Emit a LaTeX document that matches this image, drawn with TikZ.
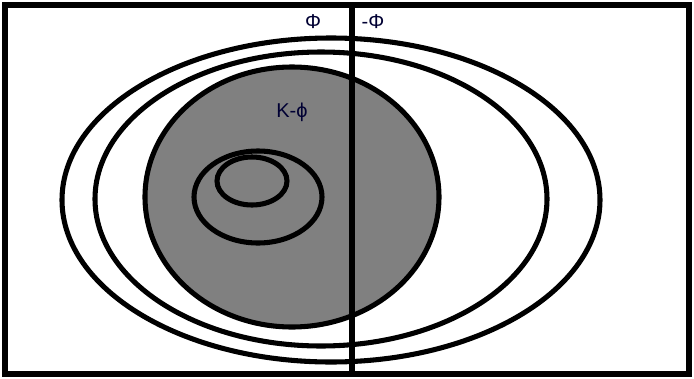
\documentclass[tikz,border=0pt]{standalone}
\usepackage{fontspec}
\setmainfont{Liberation Sans}
\usepackage{tikz}

\begin{document}
\begin{tikzpicture}[x=0.75pt, y=-0.75pt, every node/.style={font=\fontsize{15}{17}\selectfont, text=black!80!blue}, ring/.style={line width=3.8pt}]
	\useasboundingbox (0,0) rectangle (694,379);
	\fill[white] (0,0) rectangle (694,379);
	\draw[ring] (331,200) ellipse [x radius=269, y radius=162];
	\draw[ring] (321,199) ellipse [x radius=226, y radius=147];
	\draw[ring, fill=gray] (292,197) ellipse [x radius=147, y radius=130];
	\draw[ring] (258,197) ellipse [x radius=64, y radius=46];
	\draw[ring] (252,181) ellipse [x radius=35, y radius=24];
	\draw[ring] (5,5) rectangle (689,374);
	\coordinate (top) at (352,5);
	\coordinate (bot) at (352,374);
	\draw[ring] (top) -- (bot);
	\node (phi) at (313,22) {Φ};
	\node (negphi) at (373,22) {-Φ};
	\node (kphi) at (292,112) {K-ϕ};
\end{tikzpicture}
\end{document}
